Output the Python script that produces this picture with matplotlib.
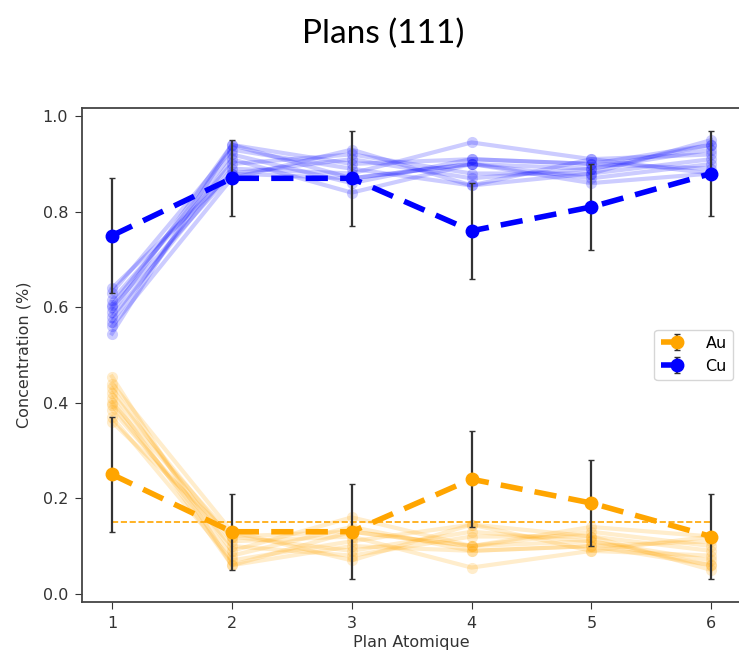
import matplotlib.pyplot as plt
import numpy as np

# atomic planes
plans = [1, 2, 3, 4, 5, 6]

# individual runs (thin, transparent lines)
au_runs = [
    [0.455, 0.06, 0.10, 0.09, 0.10, 0.06],
    [0.44, 0.13, 0.07, 0.145, 0.12, 0.05],
    [0.43, 0.09, 0.16, 0.10, 0.13, 0.10],
    [0.42, 0.11, 0.12, 0.055, 0.09, 0.08],
    [0.41, 0.06, 0.13, 0.10, 0.14, 0.12],
    [0.40, 0.12, 0.09, 0.13, 0.11, 0.07],
    [0.395, 0.08, 0.14, 0.09, 0.10, 0.11],
    [0.385, 0.10, 0.08, 0.12, 0.12, 0.09],
    [0.37, 0.07, 0.11, 0.145, 0.09, 0.12],
    [0.36, 0.12, 0.13, 0.10, 0.11, 0.06],
]
cu_runs = [
    [0.545, 0.94, 0.90, 0.91, 0.90, 0.94],
    [0.56, 0.87, 0.93, 0.855, 0.88, 0.95],
    [0.57, 0.91, 0.84, 0.90, 0.87, 0.90],
    [0.58, 0.89, 0.88, 0.945, 0.91, 0.92],
    [0.59, 0.94, 0.87, 0.90, 0.86, 0.88],
    [0.60, 0.88, 0.91, 0.87, 0.89, 0.93],
    [0.605, 0.92, 0.86, 0.91, 0.90, 0.89],
    [0.615, 0.90, 0.92, 0.88, 0.88, 0.91],
    [0.63, 0.93, 0.89, 0.855, 0.91, 0.88],
    [0.64, 0.88, 0.87, 0.90, 0.89, 0.94],
]

# mean profile with error bars
au_mean = [0.25, 0.13, 0.13, 0.24, 0.19, 0.12]
au_err = [0.12, 0.08, 0.10, 0.10, 0.09, 0.09]
cu_mean = [0.75, 0.87, 0.87, 0.76, 0.81, 0.88]
cu_err = [0.12, 0.08, 0.10, 0.10, 0.09, 0.09]

au_ref = 0.15  # nominal Au concentration

fig = plt.figure(figsize=(7.39, 6.55), dpi=100)
ax = fig.add_axes([0.111, 0.081, 0.892, 0.754])

# thin lines for each run
for run in au_runs:
    ax.plot(plans, run, '-o', color='orange', alpha=0.2, lw=3, ms=8, mew=0, zorder=1)
for run in cu_runs:
    ax.plot(plans, run, '-o', color='blue', alpha=0.2, lw=3, ms=8, mew=0, zorder=1)

ax.hlines(au_ref, plans[0], plans[-1], colors='orange', linestyles='--', lw=1.2, zorder=2)

ax.errorbar(plans, au_mean, yerr=au_err, fmt='--o', color='orange', ecolor='#333333',
            elinewidth=1.6, capsize=2.5, lw=4, ms=9, dashes=(4, 2.2), label='Au', zorder=3)
ax.errorbar(plans, cu_mean, yerr=cu_err, fmt='--o', color='blue', ecolor='#333333',
            elinewidth=1.6, capsize=2.5, lw=4, ms=9, dashes=(4, 2.2), label='Cu', zorder=3)

ax.set_ylim(-0.017, 1.017)
ax.set_xlim(0.75, 6.25)
ax.set_xticks(plans)
ax.set_yticks([0.0, 0.2, 0.4, 0.6, 0.8, 1.0])
ax.tick_params(labelsize=11.5, colors='#333333', length=5, pad=5)
for s in ax.spines.values():
    s.set_color('#444444')
    s.set_linewidth(1.3)

ax.set_xlabel('Plan Atomique', fontsize=11.5, color='#333333', labelpad=3)
ax.set_ylabel('Concentration (%)', fontsize=11.5, color='#333333', labelpad=8)
ax.legend(loc='center right', fontsize=11.5, handlelength=2.0)

fig.text(0.518, 0.948, 'Plans (111)', ha='center', va='center', fontsize=24, family='Lato')

plt.savefig('out.png', dpi=100)
